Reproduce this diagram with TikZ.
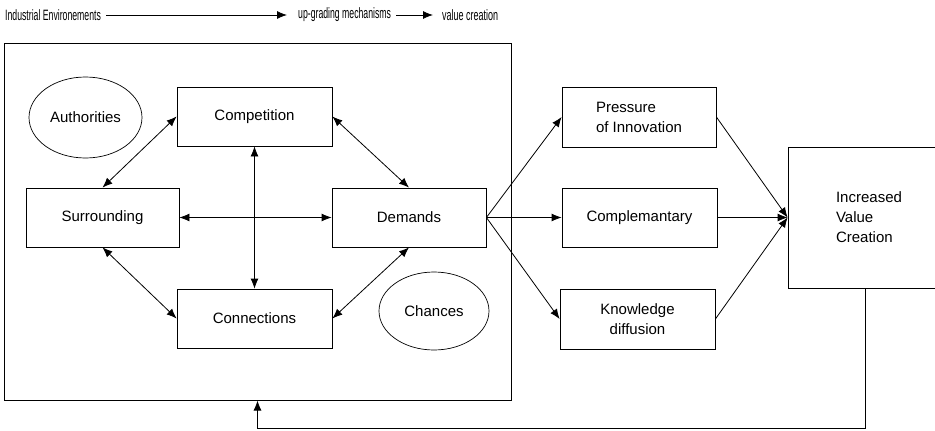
\documentclass[tikz,border=0pt]{standalone}
\usepackage{fontspec}
\setmainfont{Liberation Sans}
\usetikzlibrary{arrows.meta,shapes.geometric}
\begin{document}
\begin{tikzpicture}[x=1pt,y=-1pt,
  every node/.style={font=\fontsize{15}{20}\selectfont},
  box/.style={draw,line width=0.8pt,rectangle,inner sep=0pt,align=center},
  oval/.style={draw,line width=0.7pt,ellipse,inner sep=0pt},
  toplabel/.style={anchor=west,inner sep=5pt,font=\fontsize{15}{17}\selectfont},
  arr/.style={line width=0.8pt,-{Latex[length=10pt,width=8pt]}},
  darr/.style={line width=0.8pt,{Latex[length=10pt,width=8pt]}-{Latex[length=10pt,width=8pt]}}]
\useasboundingbox (0,0) rectangle (935,431);
% top line
\node[toplabel] (t1) at (0,15) {\scalebox{0.58}[1]{Industrial Environements}};
\node[toplabel] (t2) at (293,15) {\scalebox{0.58}[1]{up-grading mechanisms}};
\node[toplabel] (t3) at (437,15) {\scalebox{0.6}[1]{value creation}};
\draw[arr] (t1.east) -- ([xshift=-6pt]t2.west);
\draw[arr] (t2.east) -- ([xshift=-4pt]t3.west);
% environment box
\node[box,line width=1pt,minimum width=507pt,minimum height=357pt] (env) at (257.5,221.5) {};
\node[oval,minimum width=113pt,minimum height=81pt] (auth) at (85.5,117.5) {Authorities};
\node[oval,minimum width=110pt,minimum height=78pt] (chan) at (434,311) {Chances};
\node[box,minimum width=155pt,minimum height=59pt] (comp) at (254.5,116.5) {Competition};
\node[box,minimum width=153pt,minimum height=59pt] (surr) at (102.5,217.5) {Surrounding};
\node[box,minimum width=154pt,minimum height=59pt] (dem) at (409,217.5) {Demands};
\node[box,minimum width=155pt,minimum height=59pt] (conn) at (254.5,318.5) {Connections};
\draw[darr] (comp.west) -- (surr.north);
\draw[darr] (comp.east) -- (dem.north);
\draw[darr] (comp.south) -- (conn.north);
\draw[darr] (surr.east) -- (dem.west);
\draw[darr] (surr.south) -- (conn.west);
\draw[darr] (dem.south) -- (conn.east);
% mechanisms
\node[box,align=left,minimum width=154pt,minimum height=60pt] (pres) at (639,117) {Pressure\\of Innovation};
\node[box,minimum width=155pt,minimum height=59pt] (compl) at (639.5,217.5) {Complemantary};
\node[box,minimum width=155pt,minimum height=60pt] (know) at (637.5,319) {Knowledge\\diffusion};
\node[box,align=left,minimum width=162pt,minimum height=141pt] (inc) at (869,217.5) {Increased\\Value\\Creation};
\draw[arr] (dem.east) -- (pres.west);
\draw[arr] (dem.east) -- (compl.west);
\draw[arr] (dem.east) -- (know.west);
\draw[arr] (pres.east) -- (inc.west);
\draw[arr] (compl.east) -- (inc.west);
\draw[arr] (know.east) -- (inc.west);
% feedback
\coordinate (fb) at ([xshift=-4pt]inc.south);
\draw[arr] (fb) -- (fb |- 0,428) -| (env.south);
\end{tikzpicture}
\end{document}
